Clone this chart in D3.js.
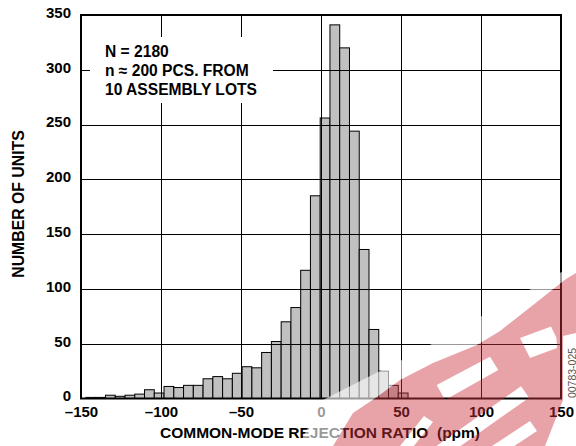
<!DOCTYPE html>
<html>
<head>
<meta charset="utf-8">
<script src="https://cdn.jsdelivr.net/npm/d3@7"></script>
<style>
  html, body { margin: 0; padding: 0; background: #fff; }
  svg { display: block; }
  text { font-family: "Liberation Sans", Arial, Helvetica, sans-serif; }
</style>
</head>
<body>
<svg id="chart" width="576" height="446"></svg>
<script>
// ---- data ----
const binLower = [-146.9, -140.8, -134.7, -128.6, -122.5, -116.4, -110.3, -104.2, -98.1, -92.0,
                  -85.9, -79.8, -73.7, -67.6, -61.5, -55.4, -49.3, -43.2, -37.1, -31.0,
                  -24.9, -18.8, -12.7, -6.6, -0.5, 5.6, 11.7, 17.8, 23.9, 30.0,
                  36.1, 42.2, 48.3];
const binWidth = 6.1;
const counts = [1, 1, 3, 2, 3, 4, 8, 5, 11, 10,
                12, 12, 18, 20, 18, 23, 29, 28, 42, 52,
                70, 83, 117, 185, 256, 341, 320, 244, 136, 63,
                25, 12, 5];
const xTicks = [-150, -100, -50, 0, 50, 100, 150];
const yTicks = [0, 50, 100, 150, 200, 250, 300, 350];
const noteLines = ["N = 2180", "n \u2248 200 PCS. FROM", "10 ASSEMBLY LOTS"];
const xTitle = "COMMON-MODE REJECTION RATIO  (ppm)";
const yTitle = "NUMBER OF UNITS";
const figId = "00783-025";

// ---- layout ----
const svg = d3.select("#chart");
const L = 81, R = 561, T = 15, B = 398.5;
const x = d3.scaleLinear().domain([-150, 150]).range([L, R]);
const y = d3.scaleLinear().domain([0, 350]).range([B, T]);

svg.append("rect").attr("width", 576).attr("height", 446).attr("fill", "#fff");

// bars
const bins = binLower.map((lo, i) => ({ lo, hi: lo + binWidth, v: counts[i] }));
svg.append("g").selectAll("rect").data(bins).join("rect")
  .attr("x", d => x(d.lo))
  .attr("width", d => x(d.hi) - x(d.lo))
  .attr("y", d => y(d.v))
  .attr("height", d => y(0) - y(d.v))
  .attr("fill", "#c0c0c0")
  .attr("stroke", "#000")
  .attr("stroke-width", 1);

// gridlines (drawn over the bars)
const grid = svg.append("g").attr("stroke", "#000").attr("stroke-width", 1);
grid.selectAll("line.h").data(yTicks.slice(1, -1)).join("line")
  .attr("class", "h")
  .attr("x1", L).attr("x2", R)
  .attr("y1", d => Math.round(y(d)) + 0.5).attr("y2", d => Math.round(y(d)) + 0.5);
grid.selectAll("line.v").data(xTicks.slice(1, -1)).join("line")
  .attr("class", "v")
  .attr("y1", T).attr("y2", B)
  .attr("x1", d => Math.round(x(d)) + 0.5).attr("x2", d => Math.round(x(d)) + 0.5);

// annotation box
svg.append("rect").attr("x", 90).attr("y", 37).attr("width", 183).attr("height", 66).attr("fill", "#fff");
svg.append("g").selectAll("text").data(noteLines).join("text")
  .attr("x", 105)
  .attr("y", (d, i) => 56.5 + i * 19)
  .attr("font-size", 15.6)
  .attr("font-weight", "bold")
  .attr("fill", "#000")
  .text(d => d);

// frame
svg.append("rect").attr("x", L).attr("y", T).attr("width", R - L).attr("height", B - T)
  .attr("fill", "none").attr("stroke", "#000").attr("stroke-width", 2);

// axes (labels only)
const fmt = d => d3.format("d")(d).replace("\u2212", "\u2013").replace("-", "\u2013");
const yAxis = svg.append("g").attr("transform", `translate(${L},-2.5)`)
  .call(d3.axisLeft(y).tickValues(yTicks).tickSize(0).tickPadding(10).tickFormat(fmt));
const xAxis = svg.append("g").attr("transform", `translate(0,${B})`)
  .call(d3.axisBottom(x).tickValues(xTicks).tickSize(0).tickPadding(8).tickFormat(fmt));
[yAxis, xAxis].forEach(a => {
  a.select(".domain").remove();
  a.selectAll("text")
    .attr("font-family", "'Liberation Sans', Arial, Helvetica, sans-serif")
    .attr("font-size", 15)
    .attr("font-weight", "bold")
    .attr("fill", "#000");
});

// titles
svg.append("text")
  .attr("x", 320).attr("y", 438)
  .attr("text-anchor", "middle")
  .attr("font-size", 15.5).attr("font-weight", "bold")
  .style("white-space", "pre")
  .text(xTitle);
svg.append("text")
  .attr("transform", "translate(24,204) rotate(-90)")
  .attr("text-anchor", "middle")
  .attr("font-size", 15.8).attr("font-weight", "bold")
  .text(yTitle);
svg.append("text")
  .attr("transform", "translate(575.5,373) rotate(-90)")
  .attr("text-anchor", "middle")
  .attr("font-size", 10.5).attr("fill", "#555")
  .text(figId);

// ---- watermark (decorative overlay) ----
const wm = svg.append("g").attr("pointer-events", "none");
const poly = pts => "M" + pts.map(p => p.join(",")).join("L") + "Z";
const redEdge = [[333,446],[353,413],[377,397],[400,380],[433,363],[477,345],[500,331],[566,279],[576,273]];
// faded band ahead of the red shape
wm.append("path")
  .attr("d", poly([[298,446],[323,400],[378,372],[410,356],[576,264]].concat(redEdge.slice().reverse())))
  .attr("fill", "#fff").attr("fill-opacity", 0.6);
// red shape with white cut-outs
const outer = redEdge.concat([[576,333],[563,336],[563,400],[545,446]]);
const holeA = [[436.7,385],[490,356.7],[498.3,370],[445,400]];
const holeB = [[436,446.3],[521,386.3],[529,397.7],[444,457.7]];
const holeC = [[400,446],[424,416],[433,422],[409,452]];
const holeE = [[492,446],[530,421],[537,431],[499,456]];
const holeD = [[520,338],[551,326.5],[556.5,338],[557,348],[530,358]];
wm.append("path")
  .attr("d", poly(outer) + poly(holeA) + poly(holeB) + poly(holeC) + poly(holeE) + poly(holeD))
  .attr("fill-rule", "evenodd")
  .attr("fill", "rgb(204,51,62)").attr("fill-opacity", 0.45);
</script>
</body>
</html>
